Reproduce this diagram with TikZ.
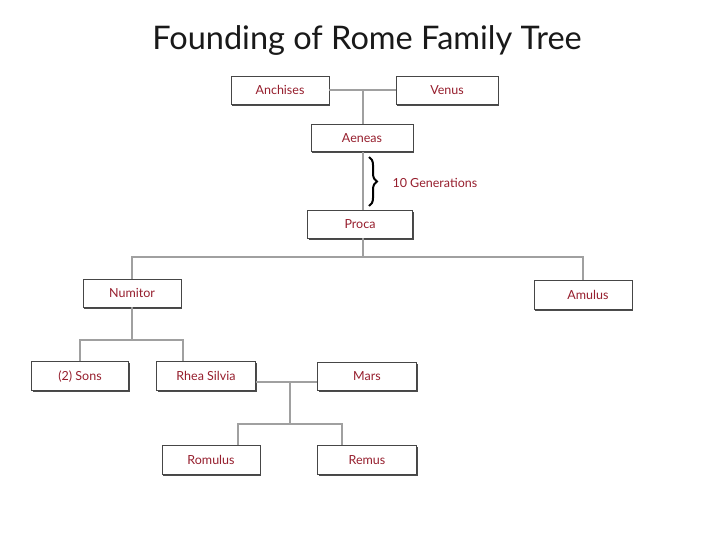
\documentclass[tikz,border=0pt]{standalone}
\usepackage{fontspec}
\setmainfont{Lato}
\newfontfamily\titlefont{Lato}
\usetikzlibrary{shadows,decorations.pathreplacing,calc}
\definecolor{namered}{RGB}{150,30,45}
\definecolor{linegray}{RGB}{160,160,160}
\definecolor{boxgray}{RGB}{70,70,70}
\tikzset{
  person/.style={draw=boxgray, line width=0.9pt, fill=white,
    minimum width=98pt, minimum height=28pt, inner sep=0pt,
    text height=10pt, text depth=1pt,
    font=\fontsize{12.5}{13}\selectfont, text=namered,
    drop shadow={shadow xshift=1.2pt, shadow yshift=-1.5pt, fill=black!70, opacity=1}},
  link/.style={draw=linegray, line width=1.4pt}
}
\begin{document}
\begin{tikzpicture}[x=1pt,y=-1pt]
\useasboundingbox (0,0) rectangle (720,541);
\node[font=\titlefont\fontsize{32.5}{34}\selectfont, text=black!90] (title) at (367,40) {Founding of Rome Family Tree};

\node[person] (anch) at (280,90) {Anchises};
\node[person, minimum width=102pt] (venus) at (447,90) {Venus};
\node[person, minimum width=102pt, minimum height=27pt] (aeneas) at (362,138) {Aeneas};
\node[person, minimum width=105pt] (proca) at (360,224) {Proca};
\node[person] (numitor) at (132,293) {Numitor};
\node[person, minimum height=29pt] (amulus) at (583,295) {\hspace*{10pt}Amulus};
\node[person, minimum width=97pt, minimum height=29pt] (sons) at (80,376) {(2) Sons};
\node[person, minimum width=99pt, minimum height=29pt] (rhea) at (206,376) {Rhea Silvia};
\node[person, minimum width=99pt] (mars) at (367,376) {Mars};
\node[person, minimum height=29pt] (romulus) at (211,460) {Romulus};
\node[person, minimum width=99pt, minimum height=29pt] (remus) at (367,460) {Remus};

\coordinate (j1) at (363,90);
\coordinate (j2) at (363,257);
\coordinate (j3) at (132,340);
\coordinate (j4) at (290,382);
\coordinate (j5) at (290,424);

% connectors
\draw[link] (anch.east) -- (venus.west);
\draw[link] (j1) -- (j1 |- aeneas.north);
\draw[link] (j1 |- aeneas.south) -- (j1 |- proca.north);
\draw[link] (j2 |- proca.south) -- (j2);
\draw[link] (numitor.north) |- (j2) -| (amulus.north);
\draw[link] (numitor.south) -- (j3);
\draw[link] (sons.north) |- (j3) -| ($(rhea.north)+(-23,0)$);
\draw[link] (j4 -| rhea.east) -- (j4 -| mars.west);
\draw[link] (j4) -- (j5);
\draw[link] ($(romulus.north)+(27,0)$) |- (j5) -| ($(remus.north)+(-25,0)$);

% brace
\coordinate (b1) at (369,157);
\coordinate (b2) at (369,206);
\draw[line width=2pt, decorate, decoration={brace, amplitude=8pt}] (b1) -- (b2);
\node[anchor=west, text=namered, font=\fontsize{12.5}{13}\selectfont] (gen) at (389,183) {10 Generations};
\end{tikzpicture}
\end{document}
